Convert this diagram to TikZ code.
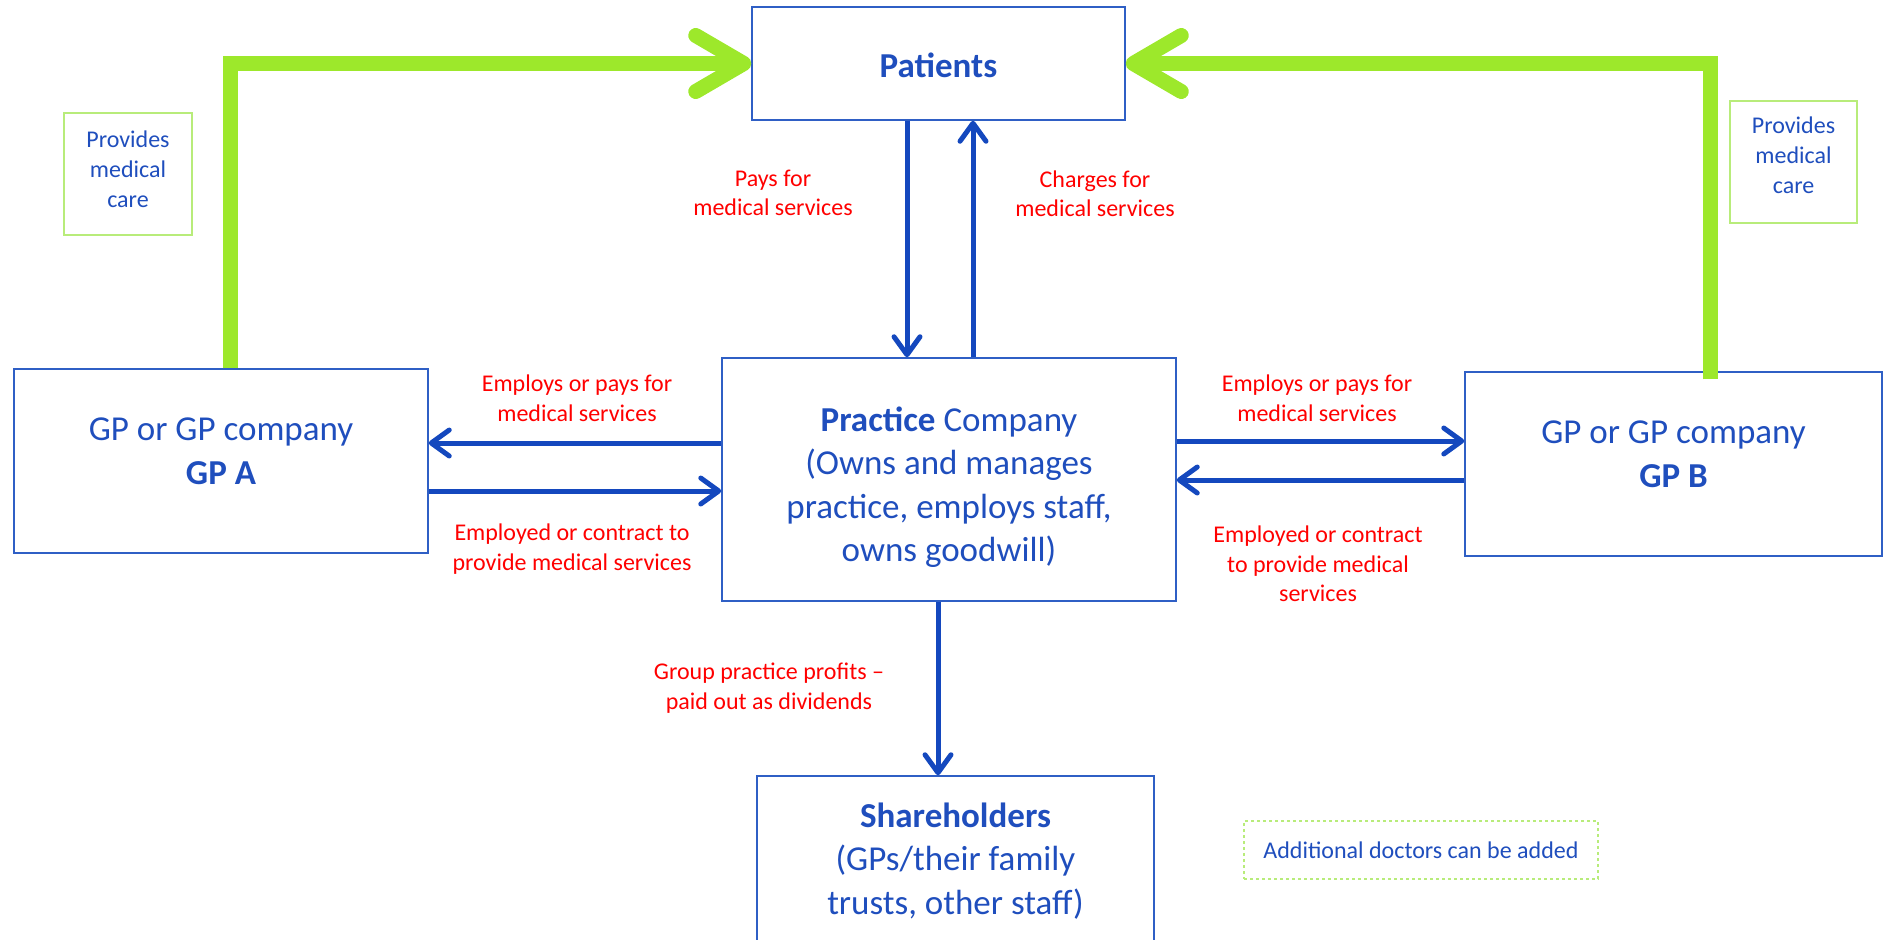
\documentclass[tikz,border=0pt]{standalone}
\usepackage{fontspec}
\setmainfont{Carlito}
\usetikzlibrary{arrows.meta,calc,positioning}
\definecolor{txtblue}{HTML}{1F4EBD}
\definecolor{boxline}{HTML}{2F5FC5}
\definecolor{flowblue}{HTML}{1448BE}
\definecolor{caregreen}{HTML}{9DE82B}
\definecolor{notegreen}{HTML}{B8EC7A}
\tikzset{
	entity/.style={draw=boxline,line width=1.5pt,text=txtblue,align=center,inner sep=0pt,font=\fontsize{35}{43.5}\selectfont},
	note/.style={draw=notegreen,line width=1.2pt,text=txtblue,align=center,inner sep=0pt,font=\fontsize{24}{30}\selectfont},
	flowlabel/.style={text=red,align=center,inner sep=0pt,font=\fontsize{24}{29.5}\selectfont},
	flow/.style={draw=flowblue,line width=5pt,-{Straight Barb[length=18pt,width=26pt,round]}},
	care/.style={draw=caregreen,line width=15pt,-{Straight Barb[length=48pt,width=56pt,round]}}
}
\begin{document}
\begin{tikzpicture}[x=1pt,y=-1pt]
		\useasboundingbox (0,0) rectangle (1883,940);
		\clip (0,0) rectangle (1883,940);
		% boxes
		\node[entity,minimum width=373pt,minimum height=113pt] (patients) at (938.5,63.5) {\rule{0pt}{29pt}\textbf{Patients}};
		\node[entity,minimum width=454pt,minimum height=243pt] (practice) at (949,479.5) {\rule{0pt}{40pt}\textbf{Practice} Company\\(Owns and manages\\practice, employs staff,\\owns goodwill)};
		\node[entity,minimum width=414pt,minimum height=184pt] (gpa) at (221,461) {GP or GP company\\\textbf{GP A}\rule[-20pt]{0pt}{0pt}};
		\node[entity,minimum width=417pt,minimum height=184pt] (gpb) at (1673.5,464) {GP or GP company\\\textbf{GP B}\rule[-20pt]{0pt}{0pt}};
		\node[entity,minimum width=397pt,minimum height=170pt] (share) at (955.5,861) {\textbf{Shareholders}\\(GPs/their family\\trusts, other staff)};
		\node[note,minimum width=128pt,minimum height=122pt] (carea) at (128,174) {Provides\\medical\\care\rule[-10pt]{0pt}{0pt}};
		\node[note,minimum width=127pt,minimum height=122pt] (careb) at (1793.5,162) {Provides\\medical\\care\rule[-14pt]{0pt}{0pt}};
		\node[note,dashed,minimum width=354pt,minimum height=58pt] (extra) at (1421,850) {Additional doctors can be added};
		% green links
		\draw[care] (gpa.north -| {230,0}) |- (patients.west);
		\draw[care] ($(gpb.north -| {1710,0})+(0,8)$) |- (patients.east);
		% money and services
		\draw[flow] (patients.south -| {907,0}) -- (practice.north -| {907,0});
		\draw[flow] (practice.north -| {973,0}) -- (patients.south -| {973,0});
		\draw[flow] (practice.west |- {0,443}) -- (gpa.east |- {0,443});
		\draw[flow] (gpa.east |- {0,491}) -- (practice.west |- {0,491});
		\draw[flow] (practice.east |- {0,441}) -- (gpb.west |- {0,441});
		\draw[flow] (gpb.west |- {0,480}) -- (practice.east |- {0,480});
		\draw[flow] (practice.south -| {938,0}) -- (share.north -| {938,0});
		% labels
		\node[flowlabel] (pays) at (773,193) {Pays for\\medical services};
		\node[flowlabel] (charges) at (1095,194) {Charges for\\medical services};
		\node[flowlabel] (employa) at (577,398) {Employs or pays for\\medical services};
		\node[flowlabel] (employb) at (1317,398) {Employs or pays for\\medical services};
		\node[flowlabel] (contracta) at (572,549) {Employed or contract to\\provide medical services};
		\node[flowlabel] (contractb) at (1318,564) {Employed or contract\\to provide medical\\services};
		\node[flowlabel] (profits) at (769,688) {Group practice profits --\\paid out as dividends};
	\end{tikzpicture}
\end{document}
